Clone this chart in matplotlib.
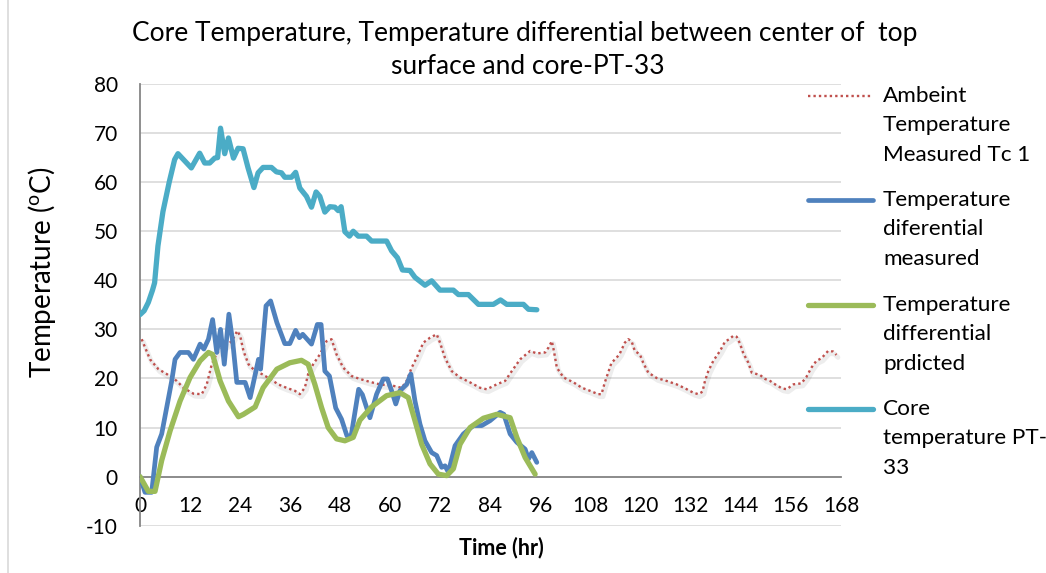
import matplotlib
matplotlib.use('Agg')
import matplotlib.pyplot as plt
import matplotlib.transforms as mtransforms
from matplotlib.lines import Line2D

plt.rcParams['font.family'] = ['Lato', 'DejaVu Sans']

# ---------------- data ----------------
x_ticks = [0, 12, 24, 36, 48, 60, 72, 84, 96, 108, 120, 132, 144, 156, 168]
y_ticks = [-10, 0, 10, 20, 30, 40, 50, 60, 70, 80]

ambient_t = [0.4, 2.4, 4.4, 6.4, 8.8, 10.4, 12.8, 14.8, 16, 17.2, 18.5, 20.4, 22, 23.3, 24,
             24.8, 26, 27.6, 29.2, 31.2, 33.1, 35.1, 37.1, 38.3, 39.5, 40.3, 41.5, 43.1, 44.7,
             45.9, 47.1, 48.7, 50.7, 52.7, 55.1, 57.5, 60.7, 62.7, 63.9, 65.1, 66.3, 67.9,
             69.5, 71.1, 71.9, 73.1, 74.7, 76.7, 79.1, 81.5, 83.1, 85.5, 87.5, 89.1, 91.1,
             93.5, 95.1, 97.1, 97.9, 98.7, 99.2, 99.9, 101.5, 103.9, 105.9, 107.8, 109.8,
             110.6, 111.4, 112.2, 113, 114.2, 115, 116.2, 117, 117.8, 118.6, 119.8, 120.6,
             121.8, 123.8, 126.2, 128.6, 130.6, 132.6, 133.8, 134.8, 135.4, 136.2, 137.4,
             139, 140.2, 141.2, 142.2, 143, 143.8, 144.6, 145.8, 146.6, 148.6, 149.8, 151,
             152.2, 153.8, 155, 156.6, 158.5, 159.7, 160.9, 162.1, 163.3, 164.9, 166.1, 166.9]
ambient_v = [28, 23.9, 21.9, 20.9, 19.5, 18.1, 16.9, 16.8, 18.8, 22.9, 25.3, 26.6, 27.6, 29.7, 28.7,
             25.6, 22.9, 21.5, 20.9, 19.9, 18.8, 18.1, 17.5, 16.8, 18.1, 20.9, 22.9, 24.9, 27.6,
             28, 24.9, 22.2, 20.5, 19.9, 19.3, 18.8, 18.5, 18.1, 19.5, 22.2, 24.2, 27.3,
             28.3, 29, 27.3, 24.2, 21.5, 20.2, 19.2, 18.1, 17.8, 18.8, 19.5, 21.5, 23.9,
             25.6, 25.1, 25.3, 26.3, 27.6, 25.6, 22.2, 20.2, 19.2, 18.1, 17.5, 16.8,
             16.8, 19.2, 21.2, 23.2, 24.2, 25.1, 27.3, 28, 27.6, 25.6, 24.9, 23.2,
             21.2, 20.1, 19.5, 18.8, 18, 17.1, 16.8, 17.3, 19.5, 21.5, 23.6,
             25.6, 27.5, 28, 28.7, 28.5, 27.1, 25.1, 23.2, 21.2, 20.7, 19.9, 19.5,
             18.8, 18, 17.8, 18.8, 19, 20.3, 22.2, 23.6, 24.1, 25.6, 25.5, 24.8]

measured_t = [0, 1.2, 2.8, 4, 5.2, 6.4, 7.6, 8.4, 9.6, 11.6, 12.8, 14.4, 15.3, 16.4, 17.4, 18.4,
              19.3, 20.2, 21.3, 22.2, 23.2, 25.2, 26.4, 28.4, 28.9, 30.2, 31.3, 32.8, 34.7,
              35.9, 37.3, 38.2, 39, 41.1, 42.5, 43.4, 44.3, 45.4, 46.9, 48.3, 49.6, 50.6,
              52.4, 53.3, 55.1, 56.7, 58.3, 59.3, 60.3, 61.3, 62.3, 63.9, 64.9, 65.9, 67.1,
              68.3, 69.9, 71.1, 72.3, 73.1, 73.9, 75.5, 77.5, 79.9, 81.9, 83.9, 86.3, 87.2,
              88.7, 90.3, 92.3, 93.1, 93.9, 95.1]
measured_v = [0, -3.2, -3.2, 6, 8.7, 14.1, 19.5, 23.9, 25.3, 25.3, 23.9, 27, 26, 28, 32, 25.3,
              30, 22.9, 33.1, 27.6, 19.2, 19.2, 16.1, 23.9, 21.9, 34.8, 35.8, 31.4, 27.1,
              27.1, 29.8, 28.3, 29, 27, 31, 31, 21.5, 20.5, 14, 11.7, 8.3, 8.3,
              17.8, 16.7, 12, 16.8, 19.9, 19.9, 17.5, 14.8, 17.5, 18.8, 20.9, 15.4, 10.7,
              7.3, 4.9, 4.3, 1.9, 2.2, 0.9, 6.3, 8.7, 10.4, 10.4, 11.4, 13.1, 12.7,
              8.7, 7, 5.6, 3.6, 4.9, 2.9]

predicted_t = [0, 2, 3.6, 5.2, 7.2, 9.6, 12, 14.4, 16.4, 17.4, 19.2, 21.2, 23.6, 24.8, 27.6,
               29.5, 32.8, 35.9, 38.7, 40.3, 41.9, 43.5, 45.1, 47.1, 49.1, 51.1, 52.7, 55.5,
               59.1, 62.3, 64.3, 65.9, 67.5, 69.5, 71.5, 73.5, 75.1, 76.7, 79.1, 82.3, 85.5,
               88.7, 90.3, 92.3, 94.7]
predicted_v = [0, -3, -3, 3.3, 9.3, 15.4, 20.2, 23.6, 25.3, 24.9, 19.5, 15.4, 12.2, 12.7, 14.2,
               18.1, 21.9, 23.2, 23.7, 22.9, 18.8, 14.1, 10, 7.7, 7.3, 8, 11.5, 14.2,
               16.5, 17.1, 16.1, 11.4, 6.6, 2.6, 0.5, 0.2, 1.6, 6.6, 10, 11.9, 12.7,
               12, 8, 3.9, 0.5]

core_t = [0, 1, 2, 3, 3.5, 4.3, 5.5, 7, 8.3, 9.1, 12.3, 14.3, 15.5, 16.7, 17.9, 18.6, 19.3,
          20.3, 21.2, 22.4, 23.5, 24.7, 25.9, 27.3, 28.3, 29.5, 31.5, 32.7, 33.9, 34.7, 36.3,
          37.3, 38.3, 39.9, 41.1, 42.2, 43.1, 44.3, 45.5, 46.7, 47.5, 48.2, 49.1, 50.2, 51.1,
          52.3, 54.3, 55.5, 59.1, 60.3, 61.7, 62.9, 64.7, 65.9, 68.3, 69.9, 71.9, 75.1, 76.3,
          78.7, 81.1, 84.7, 86.4, 87.9, 91.9, 93.1, 95.1]
core_v = [33, 33.8, 35.5, 38, 39.5, 47, 54, 60, 64.6, 65.8, 62.9, 65.9, 63.9, 63.9, 64.9, 65, 71,
          65.8, 69, 64.9, 66.9, 66.8, 62.9, 58.9, 61.9, 63, 63, 62.1, 61.9, 61, 61,
          62, 58.8, 57.1, 54.9, 58, 57.1, 53.9, 55, 54.9, 54.2, 55, 49.9, 49, 50,
          49, 49, 48, 48, 46, 44.6, 42.1, 42, 40.6, 39, 39.9, 38, 38, 37.1,
          37.1, 35.1, 35.1, 36, 35.1, 35.1, 34.1, 34]

legend_labels = ["Ambeint\nTemperature\nMeasured Tc 1",
                 "Temperature\ndiferential\nmeasured",
                 "Temperature\ndifferential\nprdicted",
                 "Core\ntemperature PT-\n33"]

title_text = "Core Temperature, Temperature differential between center of  top\nsurface and core-PT-33"
ylabel_text = "Temperature ($\\mathregular{^{o}}$C)"
xlabel_text = "Time (hr)"

# ---------------- styles ----------------
c_amb = '#C0504D'
c_meas = '#4F81BD'
c_pred = '#9BBB59'
c_core = '#4BACC6'
axis_gray = '#868686'
grid_gray = '#D9D9D9'
FS = 15

W, H = 1046, 573
fig = plt.figure(figsize=(W / 100, H / 100), dpi=100)
ax_left, ax_right, ax_top, ax_bot = 140, 841, 84, 525.7
ax = fig.add_axes([ax_left / W, 1 - ax_bot / H, (ax_right - ax_left) / W, (ax_bot - ax_top) / H])

ax.set_xlim(0, 168)
ax.set_ylim(-10, 80)
ax.set_xticks(x_ticks)
ax.set_yticks(y_ticks)
ax.set_xticklabels([str(v) for v in x_ticks])
ax.set_yticklabels([str(v) for v in y_ticks])
ax.grid(axis='y', color=grid_gray, lw=1.2, zorder=0)
ax.set_axisbelow(True)
for s in ('top', 'right'):
    ax.spines[s].set_visible(False)
ax.spines['bottom'].set_position(('data', 0))
ax.spines['bottom'].set_color(axis_gray)
ax.spines['bottom'].set_linewidth(1.3)
ax.spines['left'].set_color(axis_gray)
ax.spines['left'].set_linewidth(1.3)
ax.tick_params(axis='both', length=0, labelsize=FS, colors='black')
ax.tick_params(axis='y', pad=16)
ax.tick_params(axis='x', pad=14)

# shadow for ambient
shadow_tr = mtransforms.offset_copy(ax.transData, fig=fig, x=1.5, y=-2.5, units='dots')
ax.plot(ambient_t, ambient_v, color='#000000', alpha=0.07, lw=3.5, transform=shadow_tr,
        solid_joinstyle='round', solid_capstyle='round', zorder=2)
ax.plot(ambient_t, ambient_v, color=c_amb, lw=1.7, linestyle=(0, (1, 1.3)),
        dash_capstyle='butt', zorder=3)
ax.plot(measured_t, measured_v, color=c_meas, lw=3.4, solid_joinstyle='round',
        solid_capstyle='round', zorder=4)
ax.plot(predicted_t, predicted_v, color=c_pred, lw=3.8, solid_joinstyle='round',
        solid_capstyle='round', zorder=5)
ax.plot(core_t, core_v, color=c_core, lw=3.8, solid_joinstyle='round',
        solid_capstyle='round', zorder=6)

# ---------------- legend (manual, Excel style) ----------------
leg_styles = [dict(color=c_amb, lw=1.7, linestyle=(0, (1, 1.3)), dash_capstyle='butt'),
              dict(color=c_meas, lw=3.4, solid_capstyle='round'),
              dict(color=c_pred, lw=3.8, solid_capstyle='round'),
              dict(color=c_core, lw=3.8, solid_capstyle='round')]
leg_y0 = [96, 200, 305, 409]
line_gap = 29.3
for lab, st, y0 in zip(legend_labels, leg_styles, leg_y0):
    fig.add_artist(Line2D([808 / W, 873 / W], [1 - y0 / H, 1 - y0 / H], **st))
    for i, ln in enumerate(lab.split('\n')):
        fig.text(883 / W, 1 - (y0 + i * line_gap) / H, ln, fontsize=16.2, ha='left', va='center')

# ---------------- titles ----------------
fig.text(525 / W, 1 - 33 / H, title_text.split('\n')[0], fontsize=19, ha='center', va='center')
fig.text(528 / W, 1 - 67 / H, title_text.split('\n')[1], fontsize=19, ha='center', va='center')
fig.text(42 / W, 1 - 272 / H, ylabel_text, fontsize=20, rotation=90, ha='center', va='center')
fig.text(501 / W, 1 - 548 / H, xlabel_text, fontsize=15.5, fontweight='bold', ha='center', va='center')

# left chart border
fig.add_artist(Line2D([8 / W, 8 / W], [0, 1], color='#D9D9D9', lw=1.2))

fig.savefig('out.png', dpi=100)
